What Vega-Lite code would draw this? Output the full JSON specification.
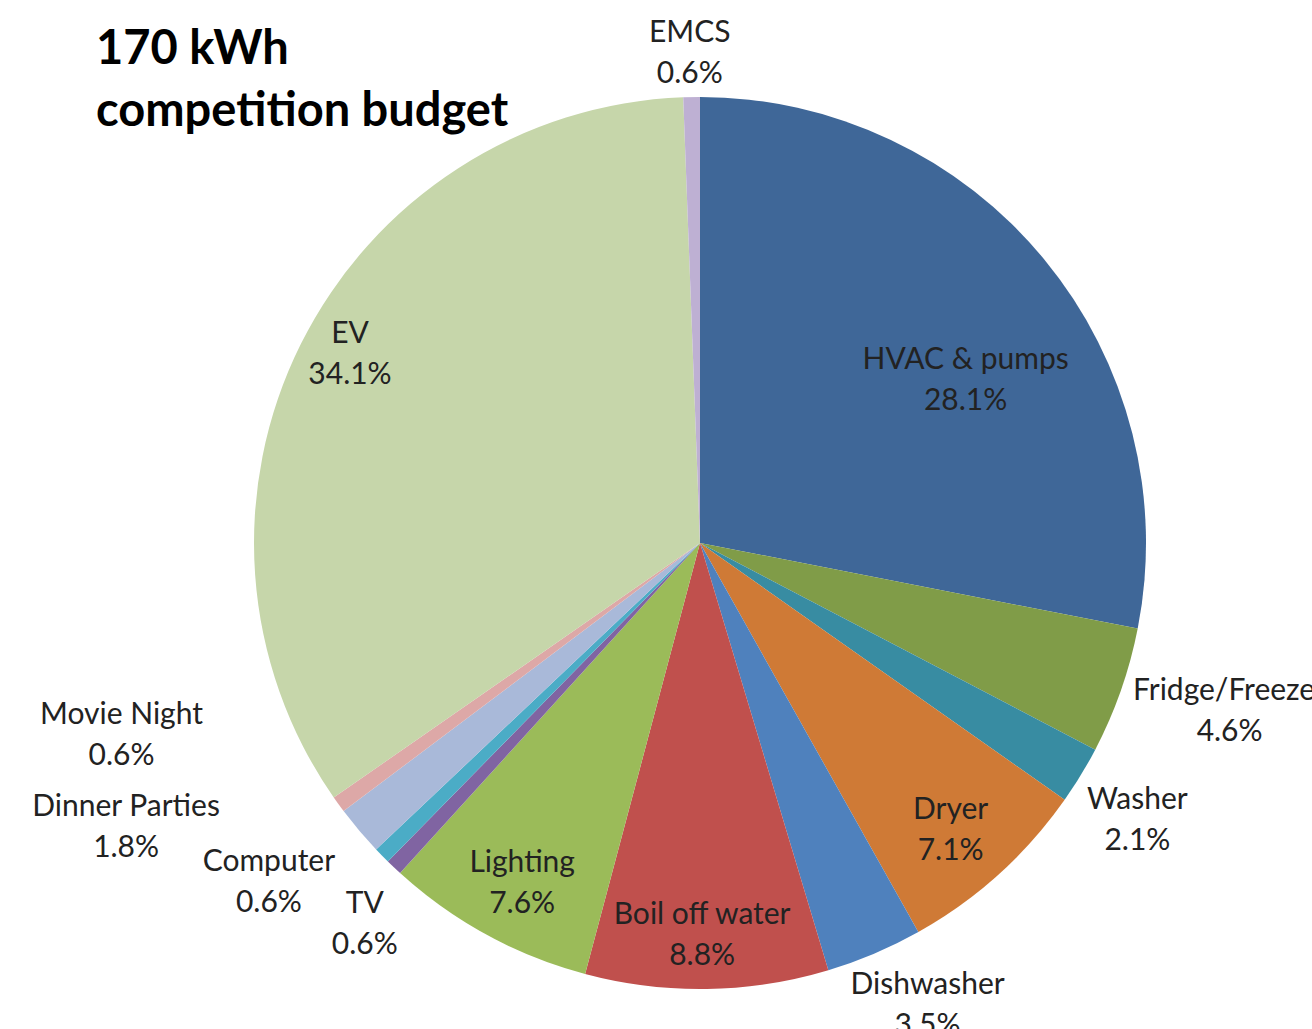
{
  "$schema": "https://vega.github.io/schema/vega-lite/v6.json",
  "width": 1224,
  "height": 972,
  "autosize": "none",
  "padding": {"left": 88, "top": 57, "right": 0, "bottom": 0},
  "background": "white",
  "title": {
    "text": ["170 kWh", "competition budget"],
    "anchor": "start",
    "frame": "group",
    "font": "Lato",
    "fontSize": 47,
    "fontWeight": "bold",
    "color": "#000000",
    "lineHeight": 62,
    "offset": 0,
    "dx": 8,
    "dy": 118
  },
  "data": {
    "values": [
      {"cat": "HVAC & pumps", "value": 28.1, "order": 1, "label": "HVAC & pumps\n28.1%"},
      {"cat": "Fridge/Freezer", "value": 4.6, "order": 2, "label": "Fridge/Freezer\n4.6%"},
      {"cat": "Washer", "value": 2.1, "order": 3, "label": "Washer\n2.1%"},
      {"cat": "Dryer", "value": 7.1, "order": 4, "label": "Dryer\n7.1%"},
      {"cat": "Dishwasher", "value": 3.5, "order": 5, "label": "Dishwasher\n3.5%"},
      {"cat": "Boil off water", "value": 8.8, "order": 6, "label": "Boil off water\n8.8%"},
      {"cat": "Lighting", "value": 7.6, "order": 7, "label": "Lighting\n7.6%"},
      {"cat": "TV", "value": 0.6, "order": 8, "label": "TV\n0.6%"},
      {"cat": "Computer", "value": 0.6, "order": 9, "label": "Computer\n0.6%"},
      {"cat": "Dinner Parties", "value": 1.8, "order": 10, "label": "Dinner Parties\n1.8%"},
      {"cat": "Movie Night", "value": 0.6, "order": 11, "label": "Movie Night\n0.6%"},
      {"cat": "EV", "value": 34.1, "order": 12, "label": "EV\n34.1%"},
      {"cat": "EMCS", "value": 0.6, "order": 13, "label": "EMCS\n0.6%"}
    ]
  },
  "encoding": {
    "theta": {"field": "value", "type": "quantitative", "stack": true},
    "order": {"field": "order", "type": "quantitative"}
  },
  "layer": [
    {
      "mark": {"type": "arc", "outerRadius": 446},
      "encoding": {
        "color": {
          "field": "cat",
          "type": "nominal",
          "legend": null,
          "scale": {
            "domain": ["HVAC & pumps", "Fridge/Freezer", "Washer", "Dryer", "Dishwasher", "Boil off water", "Lighting", "TV", "Computer", "Dinner Parties", "Movie Night", "EV", "EMCS"],
            "range": ["#3F6798", "#809C48", "#388CA2", "#CF7A36", "#4F81BD", "#C0504D", "#9BBB59", "#8064A2", "#4BACC6", "#A9B9D9", "#DDA8A7", "#C6D6AA", "#BEB0D3"]
          }
        }
      }
    },
    {"mark": {"type": "text", "radius": {"expr": "datum.cat === 'HVAC & pumps' ? 313 : 0"}, "dx": 24, "dy": 16}, "encoding": {"text": {"condition": {"test": "datum.cat === 'HVAC & pumps'", "field": "label"}, "value": ""}}},
    {"mark": {"type": "text", "radius": {"expr": "datum.cat === 'Fridge/Freezer' ? 557 : 0"}, "dx": 4, "dy": -36}, "encoding": {"text": {"condition": {"test": "datum.cat === 'Fridge/Freezer'", "field": "label"}, "value": ""}}},
    {"mark": {"type": "text", "radius": {"expr": "datum.cat === 'Washer' ? 517 : 0"}, "dx": -4, "dy": -12}, "encoding": {"text": {"condition": {"test": "datum.cat === 'Washer'", "field": "label"}, "value": ""}}},
    {"mark": {"type": "text", "radius": {"expr": "datum.cat === 'Dryer' ? 380 : 0"}, "dx": -4, "dy": -15}, "encoding": {"text": {"condition": {"test": "datum.cat === 'Dryer'", "field": "label"}, "value": ""}}},
    {"mark": {"type": "text", "radius": {"expr": "datum.cat === 'Dishwasher' ? 513 : 0"}, "dx": 27, "dy": -30}, "encoding": {"text": {"condition": {"test": "datum.cat === 'Dishwasher'", "field": "label"}, "value": ""}}},
    {"mark": {"type": "text", "radius": {"expr": "datum.cat === 'Boil off water' ? 390 : 0"}, "dx": -4, "dy": -18}, "encoding": {"text": {"condition": {"test": "datum.cat === 'Boil off water'", "field": "label"}, "value": ""}}},
    {"mark": {"type": "text", "radius": {"expr": "datum.cat === 'Lighting' ? 382 : 0"}, "dx": 5, "dy": -15}, "encoding": {"text": {"condition": {"test": "datum.cat === 'Lighting'", "field": "label"}, "value": ""}}},
    {"mark": {"type": "text", "radius": {"expr": "datum.cat === 'TV' ? 506 : 0"}, "dx": 12, "dy": -7}, "encoding": {"text": {"condition": {"test": "datum.cat === 'TV'", "field": "label"}, "value": ""}}},
    {"mark": {"type": "text", "radius": {"expr": "datum.cat === 'Computer' ? 547 : 0"}, "dx": -41, "dy": -64}, "encoding": {"text": {"condition": {"test": "datum.cat === 'Computer'", "field": "label"}, "value": ""}}},
    {"mark": {"type": "text", "radius": {"expr": "datum.cat === 'Dinner Parties' ? 640 : 0"}, "dx": -85, "dy": -149}, "encoding": {"text": {"condition": {"test": "datum.cat === 'Dinner Parties'", "field": "label"}, "value": ""}}},
    {"mark": {"type": "text", "radius": {"expr": "datum.cat === 'Movie Night' ? 609 : 0"}, "dx": -85, "dy": -185}, "encoding": {"text": {"condition": {"test": "datum.cat === 'Movie Night'", "field": "label"}, "value": ""}}},
    {"mark": {"type": "text", "radius": {"expr": "datum.cat === 'EV' ? 399 : 0"}, "dx": 7, "dy": -31}, "encoding": {"text": {"condition": {"test": "datum.cat === 'EV'", "field": "label"}, "value": ""}}},
    {"mark": {"type": "text", "radius": {"expr": "datum.cat === 'EMCS' ? 492 : 0"}, "dx": -1, "dy": -18}, "encoding": {"text": {"condition": {"test": "datum.cat === 'EMCS'", "field": "label"}, "value": ""}}}
  ],
  "config": {
    "view": {"stroke": null},
    "text": {
      "font": "Lato",
      "fontSize": 30,
      "color": "#222222",
      "align": "center",
      "baseline": "middle",
      "lineBreak": "\n",
      "lineHeight": 41
    }
  }
}
